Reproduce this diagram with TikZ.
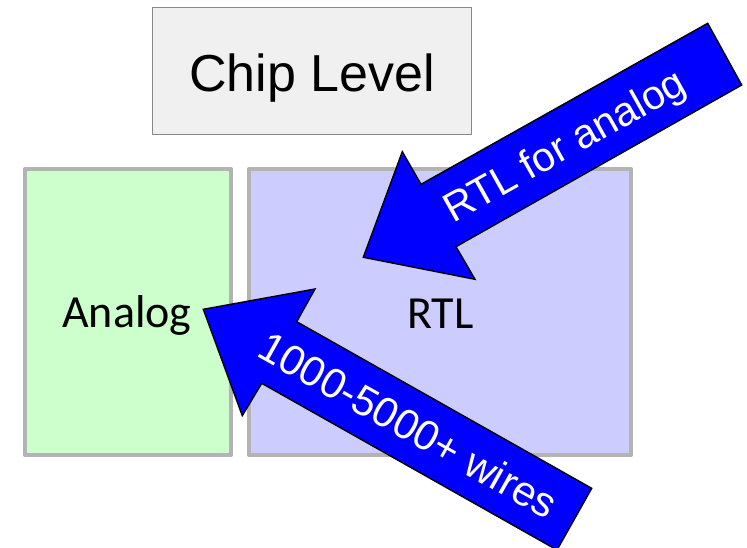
\documentclass[tikz,border=0pt]{standalone}
\usepackage{fontspec}
\setmainfont{Liberation Sans}
\newfontfamily\calibri{Carlito}
\definecolor{chipfill}{HTML}{F0F0F0}
\definecolor{chipedge}{HTML}{888888}
\definecolor{blockedge}{HTML}{B3B3B3}
\definecolor{anafill}{HTML}{CCFFCC}
\definecolor{rtlfill}{HTML}{CCCCFF}
\definecolor{arrowblue}{HTML}{0000FF}
\tikzset{
  chipbox/.style={draw=chipedge, fill=chipfill, line width=1.5pt},
  blockbox/.style={draw=blockedge, line width=4pt, line join=round},
  bigarrow/.style={draw=black, fill=arrowblue, line width=1.4pt, line join=miter},
  arrowtext/.style={text=white, font=\fontsize{41}{48}\selectfont, anchor=base, inner sep=0pt},
  blocktext/.style={font=\calibri\fontsize{46}{52}\selectfont, anchor=base, inner sep=0pt},
}
\begin{document}
\begin{tikzpicture}[x=1pt, y=-1pt]
\useasboundingbox (0,0) rectangle (747,548);
\clip (0,0) rectangle (747,548);
% boxes
\draw[chipbox] (152.5,7.5) rectangle (471.5,134.5);
\node[anchor=base, inner sep=0pt, font=\fontsize{52}{60}\selectfont] (chip) at (312,91.5) {Chip Level};
\draw[blockbox, fill=anafill] (25,169) rectangle (231,455);
\draw[blockbox, fill=rtlfill] (249,169) rectangle (631,455);
\node[blocktext] (analog) at (127,327) {Analog};
\node[blocktext] (rtl) at (440.5,328) {RTL};
% arrow 1: RTL for analog
\coordinate (a1tt) at (707.7,23.3);
\coordinate (a1tb) at (741.7,85);
\coordinate (a1lj) at (456,246.7);
\coordinate (a1hl) at (475,279.3);
\coordinate (a1tip) at (363.3,257.3);
\coordinate (a1hu) at (402.3,151.7);
\coordinate (a1uj) at (421,184.3);
\draw[bigarrow] (a1tt) -- (a1tb) -- (a1lj) -- (a1hl) -- (a1tip) -- (a1hu) -- (a1uj) -- cycle;
\node[arrowtext, rotate=29.3] (lab1) at (571,157.5) {RTL for analog};
% arrow 2: 1000-5000+ wires
\coordinate (a2tip) at (203.3,309.3);
\coordinate (a2hu) at (315,289);
\coordinate (a2uj) at (296.7,321.7);
\coordinate (a2tt) at (591.7,488.3);
\coordinate (a2tb) at (557,550);
\coordinate (a2lj) at (261.7,383.3);
\coordinate (a2hl) at (242.3,415.7);
\draw[bigarrow] (a2tip) -- (a2hu) -- (a2uj) -- (a2tt) -- (a2tb) -- (a2lj) -- (a2hl) -- cycle;
\node[arrowtext, rotate=-29.4, font=\fontsize{42}{48}\selectfont] (lab2) at (401,438) {1000-5000+ wires};
\end{tikzpicture}
\end{document}
